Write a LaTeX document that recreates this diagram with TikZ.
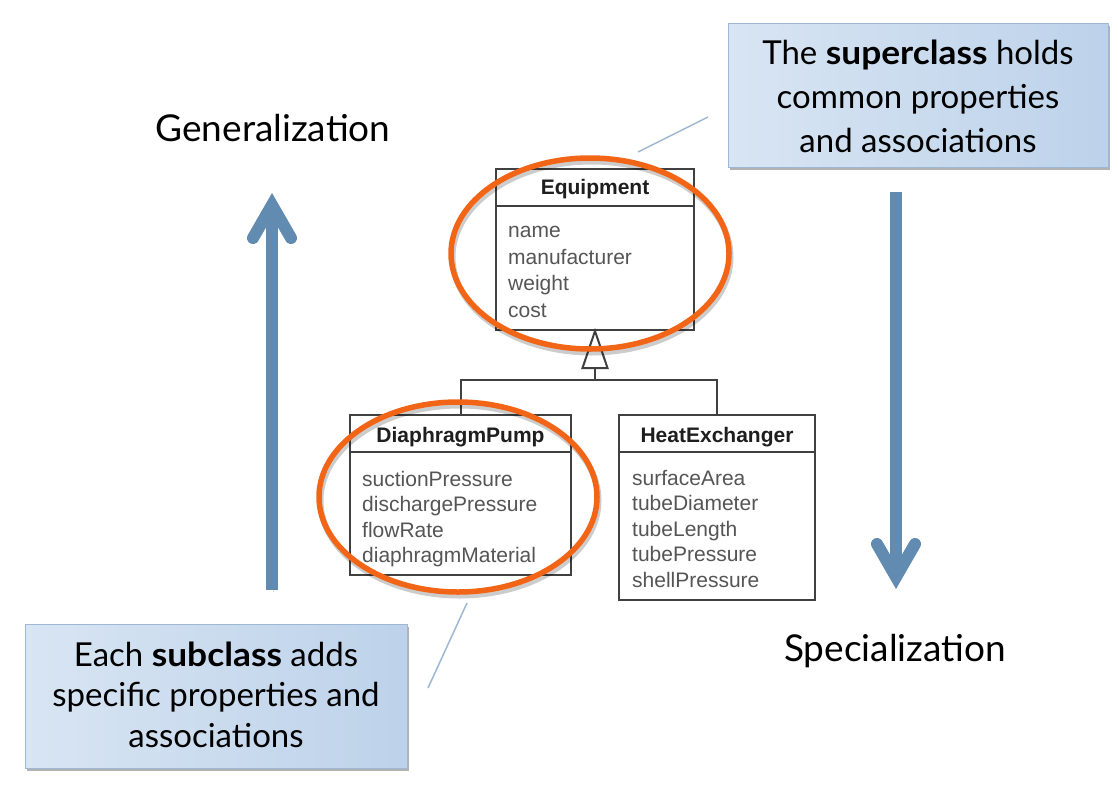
\documentclass[tikz,border=0pt]{standalone}
\usepackage{fontspec}
\setmainfont{Lato}
\newfontfamily\umlfont{Liberation Sans}
\usetikzlibrary{shadows,calc,shapes.geometric}
\definecolor{arrowblue}{RGB}{98,139,177}
\definecolor{ovalorange}{RGB}{242,101,22}
\definecolor{calloutL}{RGB}{216,229,243}
\definecolor{calloutR}{RGB}{189,210,234}
\definecolor{calloutB}{RGB}{158,184,212}
\definecolor{umlline}{RGB}{64,64,64}
\definecolor{umlattr}{RGB}{85,85,85}
\definecolor{umltitle}{RGB}{30,30,30}
\newcommand{\wbold}[1]{\scalebox{1.07}[1]{\textbf{#1}}}
\begin{document}
\begin{tikzpicture}[x=1pt,y=-1pt,
  cls/.style={draw=umlline, line width=2pt, fill=white, rectangle, inner sep=0pt},
  clsline/.style={draw=umlline, line width=2pt},
  ctitle/.style={font=\umlfont\bfseries\fontsize{21}{25}\selectfont, text=umltitle, anchor=base, inner sep=0pt},
  cattr/.style={font=\umlfont\fontsize{21}{25}\selectfont, text=umlattr, anchor=base west, inner sep=0pt},
  oval/.style={ellipse, draw=ovalorange, line width=5.5pt, inner sep=0pt,
    preaction={draw=black, draw opacity=0.2, line width=6pt, transform canvas={shift={(1.5pt,-3.5pt)}}}},
  bluearrow/.style={draw=arrowblue, line width=12pt, line cap=butt,
    preaction={draw=black, draw opacity=0.15, transform canvas={shift={(1.5pt,-2pt)}}}},
  bluehead/.style={bluearrow, line cap=round, line join=miter},
  callout/.style={draw=calloutB, line width=1pt, left color=calloutL, right color=calloutR,
    drop shadow={shadow xshift=2pt, shadow yshift=-3pt, opacity=0.3, fill=black},
    inner sep=0pt},
  callouttext/.style={align=center, inner sep=0pt, anchor=base},
  calloutline/.style={draw=calloutB, line width=1.5pt},
  biglabel/.style={font=\fontsize{37}{40}\selectfont, anchor=base, inner sep=0pt}
]
\useasboundingbox[fill=white] (0,0) rectangle (1118,785);

% UML classes
\node[cls, minimum width=198pt, minimum height=161pt] (eq) at (595,249.5) {};
\draw[clsline] (eq.west |- 0,206) -- (eq.east |- 0,206);
\node[ctitle] (eqt) at (595,194) {Equipment};
\node[cattr] (eqa1) at (508,237.5) {name};
\node[cattr] (eqa2) at (508,264) {manufacturer};
\node[cattr] (eqa3) at (508,290.5) {weight};
\node[cattr] (eqa4) at (508,317) {cost};

\node[cls, minimum width=221pt, minimum height=160pt] (dp) at (460.5,495) {};
\draw[clsline] (dp.west |- 0,452) -- (dp.east |- 0,452);
\node[ctitle] (dpt) at (460.5,442.5) {DiaphragmPump};
\node[cattr] (dpa1) at (362,486) {suctionPressure};
\node[cattr] (dpa2) at (362,511.5) {dischargePressure};
\node[cattr] (dpa3) at (362,537) {flowRate};
\node[cattr] (dpa4) at (362,562) {diaphragmMaterial};

\node[cls, minimum width=196pt, minimum height=185pt] (he) at (717,507.5) {};
\draw[clsline] (he.west |- 0,452) -- (he.east |- 0,452);
\node[ctitle] (het) at (717,442) {HeatExchanger};
\node[cattr] (hea1) at (632,485) {surfaceArea};
\node[cattr] (hea2) at (632,510.5) {tubeDiameter};
\node[cattr] (hea3) at (632,536) {tubeLength};
\node[cattr] (hea4) at (632,561.5) {tubePressure};
\node[cattr] (hea5) at (632,587) {shellPressure};

% generalization
\coordinate (bus) at (595,380);
\draw[clsline, fill=white, line join=miter] (eq.south) -- ++(-12.5,37) -- ++(25,0) -- cycle;
\draw[clsline] ($(eq.south)+(0,37)$) -- (bus);
\draw[clsline] (dp.north) |- (bus) -| (he.north);

% highlight ovals
\node[oval, minimum width=278pt, minimum height=191pt] (hl1) at (590,253.5) {};
\node[oval, minimum width=278pt, minimum height=190pt] (hl2) at (458,497) {};

% arrows
\coordinate (gbot) at (272,590);
\coordinate (gtip) at (272,205);
\draw[bluearrow] (gbot) -- (gtip);
\draw[bluehead] ($(gtip)+(-19,33)$) -- (gtip) -- ($(gtip)+(19,33)$);
\node[biglabel] (gen) at (273,141.5) {Generalization};

\coordinate (stop) at (896,192);
\coordinate (stip) at (896,577);
\draw[bluearrow] (stop) -- (stip);
\draw[bluehead] ($(stip)+(-19,-33)$) -- (stip) -- ($(stip)+(19,-33)$);
\node[biglabel] (spec) at (895,661) {Specialization};

% callouts
\node[callout, minimum width=380pt, minimum height=144pt] (c1) at (918,95) {};
\node[callouttext, font=\fontsize{33}{44}\selectfont] (c1t) at (918,152)
  {The \wbold{superclass} holds\\common properties\\and associations};
\coordinate (c1a) at (708,117);
\coordinate (c1b) at (638,152);
\draw[calloutline] (c1a) -- (c1b);

\node[callout, minimum width=382pt, minimum height=144pt] (c2) at (216,696) {};
\node[callouttext, font=\fontsize{33}{40.5}\selectfont] (c2t) at (216,747)
  {Each \wbold{subclass} adds\\specific properties and\\associations};
\coordinate (c2a) at (467,603);
\coordinate (c2b) at (428,688);
\draw[calloutline] (c2a) -- (c2b);
\end{tikzpicture}
\end{document}
